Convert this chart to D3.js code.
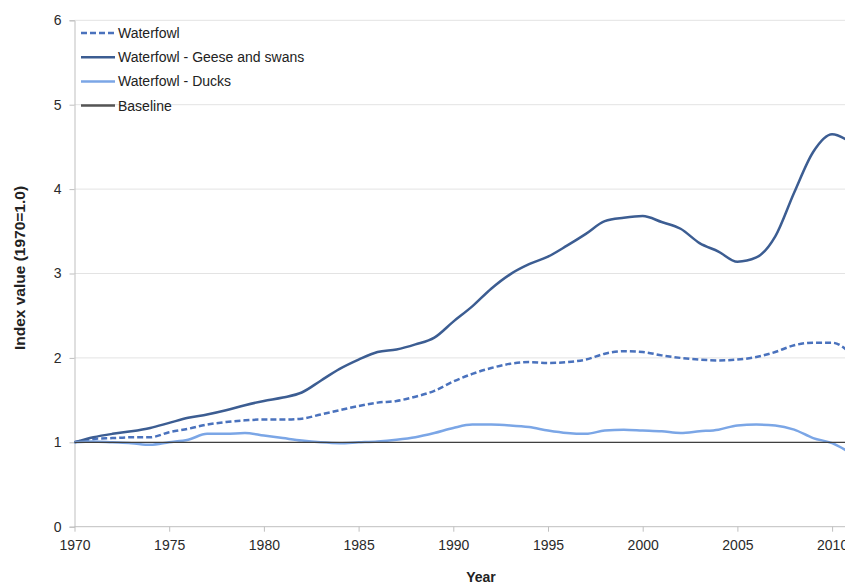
<!DOCTYPE html>
<html>
<head>
<meta charset="utf-8">
<script src="https://cdn.jsdelivr.net/npm/d3@7.9.0/dist/d3.min.js"></script>
<style>
  body { margin: 0; background: #fff; }
  svg { display: block; font-family: "Liberation Sans", "DejaVu Sans", sans-serif; }
</style>
</head>
<body>
<svg id="chart" width="845" height="585"></svg>
<script>
// years 1970..2011
const years = d3.range(1970, 2012);

const waterfowl = [1.00, 1.04, 1.05, 1.06, 1.06, 1.12, 1.16, 1.21, 1.24, 1.26, 1.27, 1.27, 1.28, 1.33, 1.38,
  1.43, 1.47, 1.49, 1.54, 1.61, 1.72, 1.81, 1.88, 1.93, 1.95, 1.94, 1.95, 1.98, 2.05, 2.08,
  2.07, 2.03, 2.00, 1.98, 1.97, 1.98, 2.01, 2.07, 2.15, 2.18, 2.18, 2.05];

const geeseSwans = [1.00, 1.06, 1.10, 1.13, 1.17, 1.23, 1.29, 1.33, 1.38, 1.44, 1.49, 1.53, 1.59, 1.73, 1.87,
  1.98, 2.07, 2.10, 2.16, 2.24, 2.43, 2.61, 2.82, 2.99, 3.11, 3.20, 3.33, 3.47, 3.62, 3.66,
  3.68, 3.61, 3.53, 3.36, 3.26, 3.14, 3.19, 3.44, 3.96, 4.44, 4.65, 4.55];

const ducks = [1.00, 1.01, 1.00, 0.99, 0.97, 1.00, 1.03, 1.10, 1.10, 1.11, 1.08, 1.05, 1.02, 1.00, 0.99,
  1.00, 1.01, 1.03, 1.06, 1.11, 1.17, 1.21, 1.21, 1.20, 1.18, 1.14, 1.11, 1.10, 1.14, 1.15,
  1.14, 1.13, 1.11, 1.13, 1.15, 1.20, 1.21, 1.20, 1.15, 1.05, 0.99, 0.87];

const baseline = years.map(() => 1);

const seriesNames = ["Waterfowl", "Waterfowl - Geese and swans", "Waterfowl - Ducks", "Baseline"];
const xTicks = [1970, 1975, 1980, 1985, 1990, 1995, 2000, 2005, 2010];
const yTicks = [0, 1, 2, 3, 4, 5, 6];

const series = [
  { name: seriesNames[0], values: waterfowl, color: "#4a72bd", width: 2.5, dash: "6,3", curve: d3.curveMonotoneX },
  { name: seriesNames[1], values: geeseSwans, color: "#3c5d92", width: 2.5, dash: null, curve: d3.curveMonotoneX },
  { name: seriesNames[2], values: ducks, color: "#7ba6e6", width: 2.5, dash: null, curve: d3.curveMonotoneX },
  { name: seriesNames[3], values: baseline, color: "#404040", width: 1.3, dash: null, curve: d3.curveLinear }
];

const svg = d3.select("#chart");
const plotLeft = 74.5, plotBottom = 526.7, plotTop = 20.3;
const x = d3.scaleLinear().domain([1970, 2011]).range([plotLeft, plotLeft + 41 * 18.94]);
const y = d3.scaleLinear().domain([0, 6]).range([plotBottom, plotTop]);

// gridlines
svg.append("g")
  .selectAll("line")
  .data(yTicks.filter(d => d > 0))
  .enter()
  .append("line")
  .attr("x1", plotLeft).attr("x2", 845)
  .attr("y1", d => y(d)).attr("y2", d => y(d))
  .attr("stroke", "#e3e3e3")
  .attr("stroke-width", 1);

// y axis
let yAxis = svg.append("g")
  .attr("transform", `translate(${plotLeft},0)`)
  .call(d3.axisLeft(y).tickValues(yTicks).tickSize(5).tickPadding(8).tickFormat(d3.format("d")));
yAxis.select(".domain").attr("stroke", "#bfbfbf");
yAxis.selectAll(".tick line").attr("stroke", "#bfbfbf");
yAxis.selectAll("text").attr("font-size", 14).attr("fill", "#2a2a2a");

// x axis
let xAxis = svg.append("g")
  .attr("transform", `translate(0,${plotBottom})`)
  .call(d3.axisBottom(x).tickValues(xTicks).tickSize(5).tickPadding(8).tickFormat(d3.format("d")));
xAxis.select(".domain").attr("stroke", "#bfbfbf").attr("d", `M${plotLeft},0H845`);
xAxis.selectAll(".tick line").attr("stroke", "#bfbfbf");
xAxis.selectAll("text").attr("font-size", 14).attr("fill", "#2a2a2a");

// lines, baseline last so it sits on top
series.forEach(s => {
  const line = d3.line()
    .x((d, j) => x(years[j]))
    .y(d => y(d))
    .curve(s.curve);
  svg.append("path")
    .datum(s.values)
    .attr("d", line)
    .attr("fill", "none")
    .attr("stroke", s.color)
    .attr("stroke-width", s.width)
    .attr("stroke-dasharray", s.dash)
    .attr("stroke-linejoin", "round");
});

// legend
const legend = svg.append("g").attr("transform", "translate(81,33)");
series.forEach((s, i) => {
  const row = legend.append("g").attr("transform", `translate(0,${i * 24.2})`);
  row.append("line")
    .attr("x1", 0).attr("x2", 34)
    .attr("y1", 0).attr("y2", 0)
    .attr("stroke", i === 3 ? "#555" : s.color)
    .attr("stroke-width", i === 3 ? 2.5 : s.width)
    .attr("stroke-dasharray", s.dash);
  row.append("text")
    .attr("x", 37).attr("y", 5)
    .attr("font-size", 14)
    .attr("fill", "#222")
    .text(s.name);
});

// axis titles
svg.append("text")
  .attr("transform", "translate(25,268) rotate(-90)")
  .attr("text-anchor", "middle")
  .attr("font-size", 15.5)
  .attr("font-weight", "bold")
  .attr("fill", "#222")
  .text("Index value (1970=1.0)");

svg.append("text")
  .attr("x", 481).attr("y", 582)
  .attr("text-anchor", "middle")
  .attr("font-size", 14)
  .attr("font-weight", "bold")
  .attr("fill", "#222")
  .text("Year");
</script>
</body>
</html>
